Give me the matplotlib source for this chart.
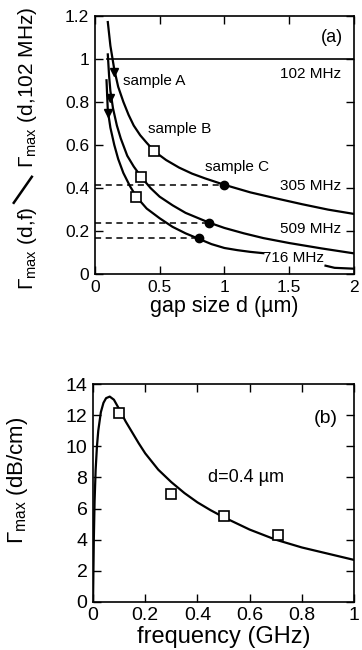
import matplotlib
matplotlib.use('Agg')
import matplotlib.pyplot as plt
from matplotlib.lines import Line2D

matplotlib.rcParams.update({'font.size': 12, 'font.family': 'Liberation Sans',
                            'mathtext.fontset': 'custom', 'mathtext.rm': 'Liberation Sans',
                            'mathtext.it': 'Liberation Sans:italic'})

# panel (a): normalized attenuation vs gap size
d_305 = [0.1, 0.12, 0.15, 0.18, 0.22, 0.26, 0.3, 0.35, 0.4, 0.46, 0.55, 0.65, 0.75, 0.85, 1.0,
         1.2, 1.4, 1.6, 1.8, 2.0]
g_305 = [1.17, 1.06, 0.95, 0.87, 0.8, 0.74, 0.69, 0.645, 0.61, 0.57, 0.53, 0.495, 0.467, 0.445, 0.415,
         0.38, 0.352, 0.325, 0.3, 0.28]
d_509 = [0.1, 0.11, 0.12, 0.14, 0.17, 0.2, 0.25, 0.3, 0.36, 0.43, 0.5, 0.6, 0.7, 0.8, 0.88, 1.0,
         1.15, 1.3, 1.5, 1.75, 2.0]
g_509 = [1.02, 0.92, 0.85, 0.77, 0.69, 0.63, 0.55, 0.5, 0.45, 0.4, 0.36, 0.32, 0.285, 0.26, 0.24, 0.215,
         0.19, 0.168, 0.145, 0.12, 0.097]
d_716 = [0.09, 0.1, 0.12, 0.15, 0.18, 0.22, 0.27, 0.32, 0.4, 0.5, 0.6, 0.7, 0.8, 0.9, 1.0, 1.1, 1.2, 1.3]
g_716 = [0.9, 0.76, 0.68, 0.6, 0.535, 0.47, 0.41, 0.36, 0.305, 0.26, 0.22, 0.19, 0.165, 0.14, 0.122,
         0.112, 0.104, 0.098]
d_716b = [1.78, 1.85, 2.0]
g_716b = [0.04, 0.03, 0.026]

tri_d = [0.15, 0.12, 0.1]
tri_g = [0.94, 0.82, 0.75]
sq_d = [0.46, 0.36, 0.32]
sq_g = [0.57, 0.45, 0.36]
circ_d = [1.0, 0.88, 0.8]
circ_g = [0.415, 0.24, 0.168]

# panel (b): attenuation vs frequency, d = 0.4 um
f_fit = [0.0, 0.003, 0.006, 0.01, 0.015, 0.02, 0.03, 0.04, 0.05, 0.064, 0.08, 0.1, 0.125, 0.15, 0.175,
         0.2, 0.25, 0.3, 0.35, 0.4, 0.45, 0.5, 0.6, 0.7, 0.8, 0.9, 1.0]
G_fit = [0.0, 4.0, 6.5, 8.5, 10.0, 11.0, 12.2, 12.8, 13.1, 13.2, 13.0, 12.4, 11.6, 10.9, 10.2,
         9.55, 8.5, 7.7, 7.0, 6.4, 5.9, 5.45, 4.65, 4.0, 3.5, 3.1, 2.7]
f_meas = [0.1, 0.3, 0.5, 0.71]
G_meas = [12.15, 6.95, 5.5, 4.3]

f = plt.figure(figsize=(3.62, 6.5), dpi=100)

ax = f.add_axes([0.262, 0.578, 0.716, 0.398])
lw = 1.6
ax.plot([0.09, 2.0], [1.0, 1.0], 'k-', lw=1.2)
ax.plot(d_305, g_305, 'k-', lw=lw)
ax.plot(d_509, g_509, 'k-', lw=lw)
ax.plot(d_716, g_716, 'k-', lw=lw)
ax.plot(d_716b, g_716b, 'k-', lw=lw)
for yv, xe in zip(circ_g, circ_d):
    ax.plot([0, xe], [yv, yv], 'k--', lw=1.1, dashes=(4, 3))
ax.plot(tri_d, tri_g, 'kv', ms=6, ls='none')
ax.plot(sq_d, sq_g, 's', mfc='white', mec='k', mew=1.2, ms=7, ls='none')
ax.plot(circ_d, circ_g, 'ko', ms=6, ls='none')

ax.text(1.83, 1.10, '(a)', ha='center', va='center', fontsize=13)
ax.text(1.9, 0.93, '102 MHz', ha='right', va='center', fontsize=11)
ax.text(1.9, 0.41, '305 MHz', ha='right', va='center', fontsize=11)
ax.text(1.9, 0.21, '509 MHz', ha='right', va='center', fontsize=11)
ax.text(1.53, 0.075, '716 MHz', ha='center', va='center', fontsize=11)
ax.text(0.22, 0.895, 'sample A', ha='left', va='center', fontsize=11)
ax.text(0.41, 0.675, 'sample B', ha='left', va='center', fontsize=11)
ax.text(0.85, 0.5, 'sample C', ha='left', va='center', fontsize=11)

ax.set_xlim(0, 2)
ax.set_ylim(0, 1.2)
ax.set_xticks([0, 0.5, 1, 1.5, 2])
ax.set_xticklabels(['0', '0.5', '1', '1.5', '2'])
ax.set_yticks([0, 0.2, 0.4, 0.6, 0.8, 1, 1.2])
ax.set_yticklabels(['0', '0.2', '0.4', '0.6', '0.8', '1', '1.2'])
ax.tick_params(direction='in', top=True, right=True, length=6, width=1, labelsize=12.5, pad=4)
ax.set_xlabel('gap size d (µm)', fontsize=15.5, labelpad=1)
for s in ax.spines.values():
    s.set_linewidth(1.2)

# y label of panel (a), built from two pieces and a slanted slash
f.text(0.091, 0.618, r'$\Gamma_{\rm max}$ (d,f)', rotation=90, rotation_mode='anchor',
       ha='center', va='baseline', fontsize=15)
f.text(0.091, 0.866, r'$\Gamma_{\rm max}$ (d,102 MHz)', rotation=90, rotation_mode='anchor',
       ha='center', va='baseline', fontsize=15)
f.add_artist(Line2D([0.038, 0.088], [0.688, 0.728], transform=f.transFigure, color='k', lw=1.8))

ax2 = f.add_axes([0.257, 0.074, 0.721, 0.335])
ax2.plot(f_fit, G_fit, 'k-', lw=lw)
ax2.plot(f_meas, G_meas, 's', mfc='white', mec='k', mew=1.2, ms=7.5, ls='none')
ax2.text(0.89, 11.8, '(b)', ha='center', va='center', fontsize=14)
ax2.text(0.44, 8.0, 'd=0.4 µm', ha='left', va='center', fontsize=13)
ax2.set_xlim(0, 1)
ax2.set_ylim(0, 14)
ax2.set_xticks([0, 0.2, 0.4, 0.6, 0.8, 1])
ax2.set_xticklabels(['0', '0.2', '0.4', '0.6', '0.8', '1'])
ax2.set_yticks(range(0, 15, 2))
ax2.tick_params(direction='in', top=True, right=True, length=6, width=1, labelsize=14, pad=4)
ax2.set_xlabel('frequency (GHz)', fontsize=17, labelpad=1)
ax2.set_ylabel(r'$\Gamma_{\rm max}$ (dB/cm)', fontsize=16)
ax2.yaxis.set_label_coords(-0.24, 0.56)
for s in ax2.spines.values():
    s.set_linewidth(1.2)

f.savefig('out.png', dpi=100)
